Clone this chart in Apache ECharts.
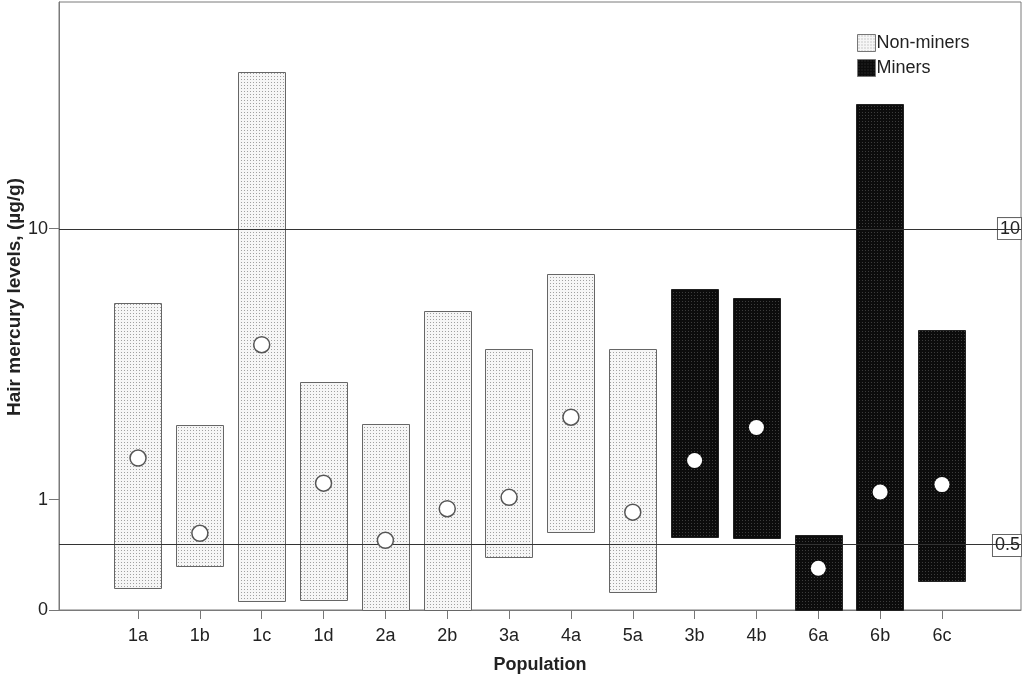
<!DOCTYPE html>
<html>
<head>
<meta charset="utf-8">
<script src="https://cdn.jsdelivr.net/npm/echarts@6/dist/echarts.min.js"></script>
<style>
  html, body { margin: 0; padding: 0; background: #fff; }
  #chart { width: 1024px; height: 675px; }
</style>
</head>
<body>
<div id="chart"></div>
<script>
// data (µg/g)
const populations = ['1a', '1b', '1c', '1d', '2a', '2b', '3a', '4a', '5a', '3b', '4b', '6a', '6b', '6c'];
const groups = ['Non-miners', 'Non-miners', 'Non-miners', 'Non-miners', 'Non-miners', 'Non-miners', 'Non-miners', 'Non-miners', 'Non-miners',
                'Miners', 'Miners', 'Miners', 'Miners', 'Miners'];
const rangeLow = [0.15, 0.32, 0.06, 0.07, 0, 0, 0.39, 0.63, 0.12, 0.58, 0.57, 0, 0, 0.2];
const rangeHigh = [5.9, 2.2, 28.5, 3.2, 2.22, 5.55, 4.15, 7.25, 4.15, 6.5, 6.1, 0.6, 23, 4.8];
const centralValue = [1.6, 0.62, 4.3, 1.22, 0.55, 0.89, 1.03, 2.36, 0.85, 1.56, 2.15, 0.3, 1.1, 1.2];
const referenceLevels = [0.5, 10];
const yTickValues = [0, 1, 10];

const FONT = "'Liberation Sans', Arial, sans-serif";
const BAR_WIDTH = 0.765;

// axis is log10(v + 1), like the original plot
const toAxis = v => Math.log10(v + 1);
const fromAxis = a => Math.round((Math.pow(10, a) - 1) * 10) / 10;

function makePattern(bg, dot) {
    const c = document.createElement('canvas');
    c.width = 3; c.height = 3;
    const ctx = c.getContext('2d');
    ctx.fillStyle = bg;
    ctx.fillRect(0, 0, 3, 3);
    ctx.fillStyle = dot;
    ctx.fillRect(1, 1, 1, 1);
    return { image: c, repeat: 'repeat' };
}

const STYLES = {
    'Non-miners': { fill: makePattern('#f6f6f6', '#a0a0a0'), stroke: '#666', dotBorder: '#555', dotBorderWidth: 1.5, dotSize: 16 },
    'Miners': { fill: makePattern('#0c0c0c', '#3c3c3c'), stroke: '#222', dotBorder: '#fff', dotBorderWidth: 0, dotSize: 15 }
};

function rangeData(group) {
    return populations.map((p, i) => i).filter(i => groups[i] === group)
        .map(i => [i, toAxis(rangeLow[i]), toAxis(rangeHigh[i])]);
}

function centerData(group) {
    return populations.map((p, i) => i).filter(i => groups[i] === group)
        .map(i => [i, toAxis(centralValue[i])]);
}

function rangeSeries(group) {
    const st = STYLES[group];
    return {
        name: group,
        type: 'custom',
        itemStyle: { color: st.fill, borderColor: st.stroke, borderWidth: 1 },
        encode: { x: 0, y: [1, 2] },
        data: rangeData(group),
        z: 2,
        renderItem: (params, api) => {
            const x = api.value(0);
            const top = api.coord([x, api.value(2)]);
            const bottom = api.coord([x, api.value(1)]);
            const w = api.size([BAR_WIDTH, 0])[0];
            return {
                type: 'rect',
                shape: { x: Math.round(top[0] - w / 2) + 0.5, y: Math.round(top[1]) + 0.5, width: Math.round(w), height: Math.round(bottom[1] - top[1]) },
                style: { fill: st.fill, stroke: st.stroke, lineWidth: 1 }
            };
        }
    };
}

function centerSeries(group) {
    const st = STYLES[group];
    return {
        name: group + ' centre',
        type: 'scatter',
        symbol: 'circle',
        symbolSize: st.dotSize,
        itemStyle: { color: '#fff', borderColor: st.dotBorder, borderWidth: st.dotBorderWidth, opacity: 1 },
        data: centerData(group),
        z: 5,
        silent: true
    };
}

const chart = echarts.init(document.getElementById('chart'));

chart.setOption({
    animation: false,
    backgroundColor: '#fff',
    textStyle: { fontFamily: FONT },
    grid: {
        left: 59, right: 3, top: 2, bottom: 65,
        outerBoundsMode: 'none', containLabel: false,
        show: true, borderColor: '#7a7a7a', borderWidth: 1, backgroundColor: 'transparent'
    },
    legend: {
        data: ['Non-miners', 'Miners'],
        orient: 'vertical',
        left: 852,
        top: 29,
        icon: 'rect',
        itemWidth: 18,
        itemHeight: 17,
        itemGap: 7,
        itemStyle: { borderColor: '#777', borderWidth: 1 },
        textStyle: { fontFamily: FONT, fontSize: 18, color: '#222', padding: [0, 0, 0, -4] }
    },
    xAxis: {
        type: 'value',
        min: -1.278,
        max: 14.278,
        name: 'Population',
        nameLocation: 'middle',
        nameGap: 46,
        nameMoveOverlap: false,
        nameTextStyle: { fontFamily: FONT, fontSize: 18, fontWeight: 'bold', color: '#222' },
        splitLine: { show: false },
        axisLine: { show: true, onZero: false, lineStyle: { color: '#7a7a7a', width: 1 } },
        axisTick: { show: true, customValues: populations.map((p, i) => i), length: 9, lineStyle: { color: '#777' } },
        axisLabel: {
            customValues: populations.map((p, i) => i),
            formatter: v => populations[Math.round(v)],
            margin: 17,
            fontFamily: FONT, fontSize: 18, color: '#222'
        }
    },
    yAxis: [{
        type: 'value',
        min: 0,
        max: 1.66,
        name: 'Hair mercury levels, (µg/g)',
        nameLocation: 'middle',
        nameGap: 35,
        nameMoveOverlap: false,
        nameTextStyle: { fontFamily: FONT, fontSize: 19, fontWeight: 'bold', color: '#222', padding: [0, 0, 0, 18] },
        splitLine: { show: false },
        axisLine: { show: true, onZero: false, lineStyle: { color: '#7a7a7a', width: 1 } },
        axisTick: { show: true, customValues: yTickValues.map(toAxis), length: 10, lineStyle: { color: '#777' } },
        axisLabel: {
            customValues: yTickValues.map(toAxis),
            formatter: v => String(fromAxis(v)),
            margin: 11,
            fontFamily: FONT, fontSize: 18, color: '#222'
        }
    }, {
        type: 'value',
        position: 'right',
        min: 0,
        max: 1.66,
        splitLine: { show: false },
        axisLine: { show: false, onZero: false },
        axisTick: { show: false },
        axisLabel: {
            inside: true,
            customValues: referenceLevels.map(toAxis),
            formatter: v => String(fromAxis(v)),
            margin: 0,
            fontFamily: FONT, fontSize: 18, color: '#222',
            backgroundColor: '#fff',
            borderColor: '#666',
            borderWidth: 1,
            padding: [2, 1, 1, 2]
        }
    }],
    series: [
        rangeSeries('Non-miners'),
        rangeSeries('Miners'),
        Object.assign(centerSeries('Non-miners'), {
            markLine: {
                silent: true,
                symbol: ['none', 'none'],
                label: { show: false },
                lineStyle: { color: '#333', width: 1, type: 'solid' },
                data: referenceLevels.map(v => ({ yAxis: toAxis(v) }))
            }
        }),
        centerSeries('Miners')
    ]
});
</script>
</body>
</html>
